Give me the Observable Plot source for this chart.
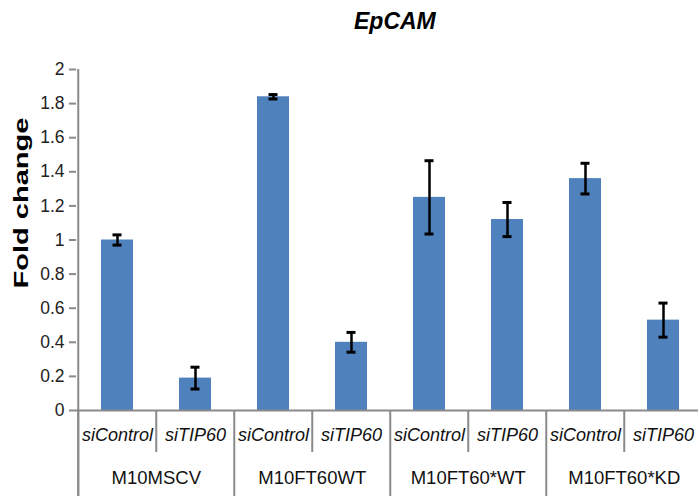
<!DOCTYPE html>
<html>
<head>
<meta charset="utf-8">
<script src="https://cdn.jsdelivr.net/npm/d3@7"></script>
<script src="https://cdn.jsdelivr.net/npm/@observablehq/plot@0.6"></script>
<style>
  html, body { margin: 0; padding: 0; background: #fff; }
</style>
</head>
<body>
<div id="chart"></div>
<script>
const title = "EpCAM";
const yLabel = "Fold change";
const groups = ["M10MSCV", "M10FT60WT", "M10FT60*WT", "M10FT60*KD"];
const conditions = ["siControl", "siTIP60"];
const values = [1.00, 0.19, 1.84, 0.40, 1.25, 1.12, 1.36, 0.53];
const errors = [0.03, 0.064, 0.013, 0.058, 0.215, 0.10, 0.09, 0.10];
const yTicks = [0, 0.2, 0.4, 0.6, 0.8, 1, 1.2, 1.4, 1.6, 1.8, 2];

const W = 698, H = 496;
const mTop = 69, mBottom = 86, mLeft = 76;
const xRange = [76, 704];

const data = [];
groups.forEach((g, gi) => conditions.forEach((c, ci) => {
  const i = gi * conditions.length + ci;
  data.push({id: i, group: g, cond: c, value: values[i], lo: values[i] - errors[i], hi: values[i] + errors[i], first: ci === 0});
}));
const ids = data.map(d => d.id);
const step = (xRange[1] - xRange[0]) / ids.length;
const unitPx = (H - mTop - mBottom) / 2;
const yBottom = -mBottom / unitPx;
const yMid = -42 / unitPx;
const gray = "#8a8a8a";

const chart = Plot.plot({
  width: W,
  height: H,
  marginTop: mTop,
  marginBottom: mBottom,
  marginLeft: mLeft,
  marginRight: 0,
  style: {fontFamily: "'Liberation Sans', Arial, sans-serif", background: "#fff"},
  x: {domain: ids, range: xRange, paddingInner: 0.592, paddingOuter: 0.296, axis: null},
  y: {domain: [0, 2], axis: null},
  marks: [
    Plot.barY(data, {x: "id", y: "value", fill: "#4F81BD"}),
    // separators
    Plot.ruleX(data, {x: "id", dx: -step / 2, y1: 0, y2: d => d.first ? yBottom : yMid, stroke: gray, strokeWidth: 2}),
    Plot.ruleX([ids[0]], {x: d => d, dx: -step / 2, y1: 2, y2: yBottom, stroke: gray, strokeWidth: 2}),
    Plot.ruleY([0], {stroke: gray, strokeWidth: 2}),
    Plot.axisY({ticks: yTicks, tickSize: 7, tickPadding: 5, stroke: gray, strokeWidth: 2, fontSize: 17.5, fill: "#222", tickFormat: d => String(+d.toFixed(1)), label: null}),
    // error bars
    Plot.ruleX(data, {x: "id", y1: "lo", y2: "hi", stroke: "#000", strokeWidth: 2.5}),
    Plot.tickY(data, {x: "id", y: "lo", stroke: "#000", strokeWidth: 3, insetLeft: 11.5, insetRight: 11.5}),
    Plot.tickY(data, {x: "id", y: "hi", stroke: "#000", strokeWidth: 3, insetLeft: 11.5, insetRight: 11.5}),
    // category labels
    Plot.text(data, {x: "id", text: "cond", frameAnchor: "bottom", dy: 30, fontSize: 18, fontStyle: "italic", fill: "#111"}),
    Plot.text(data.filter(d => !d.first), {x: "id", text: "group", dx: -step / 2, frameAnchor: "bottom", dy: 73, fontSize: 18.5, fill: "#111"}),
    // title and y label
    Plot.text([title], {text: d => d, frameAnchor: "top-left", dx: 277.5, dy: -57, fontSize: 23, fontWeight: "bold", fontStyle: "italic", fill: "#000"}),
    Plot.text([yLabel], {text: d => d, frameAnchor: "top-left", dx: -63, dy: 219, rotate: -90, textAnchor: "start", fontSize: 21, fontWeight: "bold", fill: "#000"})
  ]
});
document.getElementById("chart").appendChild(chart);
chart.querySelectorAll("text").forEach(t => {
  if (t.textContent === yLabel) {
    t.setAttribute("textLength", "171");
    t.setAttribute("lengthAdjust", "spacingAndGlyphs");
  }
});
</script>
</body>
</html>
